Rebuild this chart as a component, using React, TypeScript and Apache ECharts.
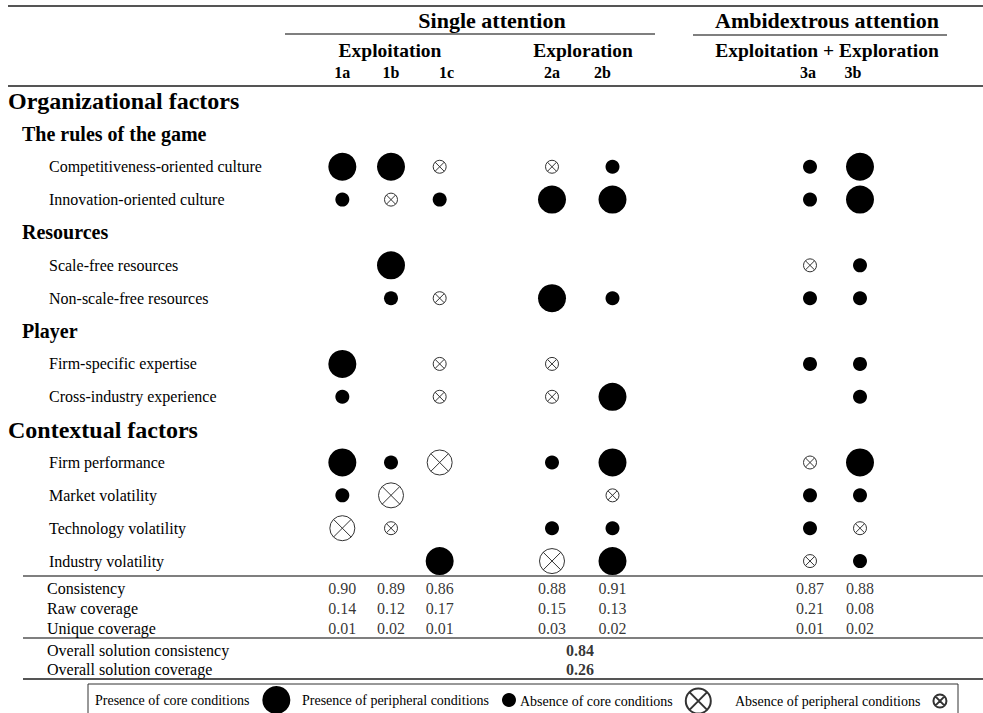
import React, { useEffect, useRef } from 'react';
import * as echarts from 'echarts';

const FONT = '"Liberation Serif", "Times New Roman", Times, serif';

// ---- Data ----
const conditionRows = [
  'Organizational factors',
  'The rules of the game',
  'Competitiveness-oriented culture',
  'Innovation-oriented culture',
  'Resources',
  'Scale-free resources',
  'Non-scale-free resources',
  'Player',
  'Firm-specific expertise',
  'Cross-industry experience',
  'Contextual factors',
  'Firm performance',
  'Market volatility',
  'Technology volatility',
  'Industry volatility',
];
const level1Rows = ['Organizational factors', 'Contextual factors'];
const level2Rows = ['The rules of the game', 'Resources', 'Player'];
const conditions = [
  'Competitiveness-oriented culture',
  'Innovation-oriented culture',
  'Scale-free resources',
  'Non-scale-free resources',
  'Firm-specific expertise',
  'Cross-industry experience',
  'Firm performance',
  'Market volatility',
  'Technology volatility',
  'Industry volatility',
];

const exploitationCols = ['1a', '1b', '1c'];
const explorationCols = ['2a', '2b'];
const ambidextrousCols = ['3a', '3b'];
const allCols = ['1a', '1b', '1c', '2a', '2b', '3a', '3b'];

// CP = presence of core, PP = presence of peripheral, CA = absence of core, PA = absence of peripheral
const config1a = ['CP', 'PP', '', '', 'CP', 'PP', 'CP', 'PP', 'CA', ''];
const config1b = ['CP', 'PA', 'CP', 'PP', '', '', 'PP', 'CA', 'PA', ''];
const config1c = ['PA', 'PP', '', 'PA', 'PA', 'PA', 'CA', '', '', 'CP'];
const config2a = ['PA', 'CP', '', 'CP', 'PA', 'PA', 'PP', '', 'PP', 'CA'];
const config2b = ['PP', 'CP', '', 'PP', '', 'CP', 'CP', 'PA', 'PP', 'CP'];
const config3a = ['PP', 'PP', 'PA', 'PP', 'PP', '', 'PA', 'PP', 'PP', 'PA'];
const config3b = ['CP', 'CP', 'PP', 'PP', 'PP', 'PP', 'CP', 'PP', 'PA', 'PP'];

const statRows = ['Consistency', 'Raw coverage', 'Unique coverage'];
const consistency = [0.9, 0.89, 0.86, 0.88, 0.91, 0.87, 0.88];
const rawCoverage = [0.14, 0.12, 0.17, 0.15, 0.13, 0.21, 0.08];
const uniqueCoverage = [0.01, 0.02, 0.01, 0.03, 0.02, 0.01, 0.02];

const overallRows = ['Overall solution consistency', 'Overall solution coverage'];
const overallValues = [0.84, 0.26];

const legendNames = [
  'Presence of core conditions',
  'Presence of peripheral conditions',
  'Absence of core conditions',
  'Absence of peripheral conditions',
];

// ---- Layout / style ----
const configs: Record<string, string[]> = {
  '1a': config1a, '1b': config1b, '1c': config1c,
  '2a': config2a, '2b': config2b, '3a': config3a, '3b': config3b,
};
const statArrays = [consistency, rawCoverage, uniqueCoverage];

const CROSS =
  'path://M0,-10A10,10,0,1,1,0,10A10,10,0,1,1,0,-10ZM-7.07,-7.07L7.07,7.07M7.07,-7.07L-7.07,7.07';

const symbolTypes = [
  { code: 'CP', name: legendNames[0], symbol: 'circle', size: 28, style: { color: '#000', opacity: 1 } },
  { code: 'PP', name: legendNames[1], symbol: 'circle', size: 14, style: { color: '#000', opacity: 1 } },
  { code: 'CA', name: legendNames[2], symbol: CROSS, size: 25, style: { color: '#fff', borderColor: '#333', borderWidth: 1, opacity: 1 } },
  { code: 'PA', name: legendNames[3], symbol: CROSS, size: 13, style: { color: '#fff', borderColor: '#333', borderWidth: 1, opacity: 1 } },
];

const groups = [
  { cols: exploitationCols, left: 318, width: 146 },
  { cols: explorationCols, left: 521.75, width: 121 },
  { cols: ambidextrousCols, left: 785, width: 100 },
];

// small horizontal nudges of the column header labels (px, + = right)
const headerNudge: Record<string, number> = { '1a': 0, '1b': 0, '1c': 7, '2a': 0, '2b': -10, '3a': -2, '3b': -7 };

const COND_TOP = 84.6;
const COND_H = 492.9;
const STAT_TOP = 578;
const STAT_H = 60;
const OV_TOP = 641;
const OV_H = 38;

function buildOption() {
  const grid: any[] = [];
  const xAxis: any[] = [];
  const yAxis: any[] = [];
  const series: any[] = [];

  const hidden = { axisLine: { show: false }, axisTick: { show: false }, splitLine: { show: false } };

  const headerRich: Record<string, any> = {};
  allCols.forEach((c) => {
    const n = headerNudge[c];
    headerRich['c' + c] = {
      fontSize: 16, fontWeight: 'bold', color: '#000', fontFamily: FONT,
      padding: [0, n < 0 ? -2 * n : 0, 0, n > 0 ? 2 * n : 0],
    };
  });

  // condition grids 0..2
  groups.forEach((g, gi) => {
    grid.push({ left: g.left, width: g.width, top: COND_TOP, height: COND_H, outerBoundsMode: 'none' });
    xAxis.push({
      type: 'category', gridIndex: gi, data: g.cols, position: 'top', ...hidden,
      axisLabel: {
        show: true, interval: 0, margin: 12.6, verticalAlign: 'middle', fontSize: 16, fontWeight: 'bold', color: '#000', fontFamily: FONT,
        formatter: (v: string) => `{c${v}|${v}}`,
        rich: headerRich,
      },
    });
    yAxis.push({
      type: 'category', gridIndex: gi, data: conditionRows, inverse: true, ...hidden,
      axisLabel: gi === 0
        ? {
            show: true, interval: 0, align: 'left', margin: g.left - 8, color: '#000', fontFamily: FONT,
            formatter: (v: string) =>
              level1Rows.includes(v) ? `{h1|${v}}` : level2Rows.includes(v) ? `{h2|${v}}` : `{it|${v}}`,
            rich: {
              h1: { fontSize: 24, fontWeight: 'bold', color: '#000', fontFamily: FONT },
              h2: { fontSize: 20, fontWeight: 'bold', color: '#000', fontFamily: FONT, padding: [0, 0, 0, 14] },
              it: { fontSize: 16, color: '#000', fontFamily: FONT, padding: [0, 0, 0, 41] },
            },
          }
        : { show: false },
    });
    symbolTypes.forEach((t) => {
      const data: any[] = [];
      g.cols.forEach((col) => {
        configs[col].forEach((code, ri) => {
          if (code === t.code) data.push([col, conditions[ri]]);
        });
      });
      series.push({
        type: 'scatter', name: t.name, xAxisIndex: gi, yAxisIndex: gi,
        symbol: t.symbol, symbolSize: t.size, itemStyle: t.style, data, silent: true,
      });
    });
  });

  // stats grids 3..5
  groups.forEach((g, gi) => {
    const idx = 3 + gi;
    grid.push({ left: g.left, width: g.width, top: STAT_TOP, height: STAT_H, outerBoundsMode: 'none' });
    xAxis.push({ type: 'category', gridIndex: idx, data: g.cols, show: false });
    yAxis.push({
      type: 'category', gridIndex: idx, data: statRows, inverse: true, ...hidden,
      axisLabel: gi === 0
        ? { show: true, interval: 0, align: 'left', margin: g.left - 47, fontSize: 16, color: '#000', fontFamily: FONT }
        : { show: false },
    });
    const data: any[] = [];
    g.cols.forEach((col) => {
      const ci = allCols.indexOf(col);
      statRows.forEach((row, ri) => data.push([col, row, statArrays[ri][ci]]));
    });
    series.push({
      type: 'scatter', xAxisIndex: idx, yAxisIndex: idx, symbolSize: 1, silent: true,
      itemStyle: { color: 'rgba(0,0,0,0)' },
      label: {
        show: true, position: 'inside', fontSize: 16, color: '#000', fontFamily: FONT,
        formatter: (p: any) => Number(p.value[2]).toFixed(2),
      },
      data,
    });
  });

  // overall grid 6
  grid.push({ left: 560, width: 40, top: OV_TOP, height: OV_H, outerBoundsMode: 'none' });
  xAxis.push({ type: 'category', gridIndex: 6, data: ['overall'], show: false });
  yAxis.push({
    type: 'category', gridIndex: 6, data: overallRows, inverse: true, ...hidden,
    axisLabel: { show: true, interval: 0, align: 'left', margin: 560 - 47, fontSize: 16, color: '#000', fontFamily: FONT },
  });
  series.push({
    type: 'scatter', xAxisIndex: 6, yAxisIndex: 6, symbolSize: 1, silent: true,
    itemStyle: { color: 'rgba(0,0,0,0)' },
    label: {
      show: true, position: 'inside', fontSize: 16, fontWeight: 'bold', color: '#000', fontFamily: FONT,
      formatter: (p: any) => Number(p.value[2]).toFixed(2),
    },
    data: overallRows.map((r, i) => ['overall', r, overallValues[i]]),
  });

  const legendPos = [
    { left: 95, w: 28, h: 28 },
    { left: 302, w: 14, h: 14 },
    { left: 520, w: 25, h: 25 },
    { left: 735, w: 13, h: 13 },
  ];
  const legend = legendNames.map((n, i) => ({
    data: [n], left: legendPos[i].left, top: 700 - legendPos[i].h / 2, align: 'right',
    itemWidth: legendPos[i].w, itemHeight: legendPos[i].h, selectedMode: false, padding: 0,
    textStyle: { fontSize: 14, color: '#000', fontFamily: FONT, padding: [0, 8, 0, 0] },
  }));

  const txt = (text: string, x: number, y: number, size: number) => ({
    type: 'text', x, y, silent: true,
    style: {
      text, fontSize: size, fontWeight: 'bold', fontFamily: FONT, fill: '#000',
      align: 'center', verticalAlign: 'middle', textAlign: 'center', textVerticalAlign: 'middle',
    },
  });
  const ln = (x1: number, y1: number, x2: number, y2: number, w = 1.5) => ({
    type: 'line', silent: true, shape: { x1, y1, x2, y2 }, style: { stroke: '#555', lineWidth: w },
  });

  const graphic = [
    ln(8, 6, 983, 6, 2),
    ln(285, 34, 655, 34),
    ln(693, 35, 947, 35),
    ln(8, 86, 983, 86, 2),
    ln(23, 576, 983, 576),
    ln(23, 638, 983, 638),
    ln(23, 679, 983, 679, 2),
    txt('Single attention', 492, 20, 22),
    txt('Ambidextrous attention', 827, 20, 22),
    txt('Exploitation', 390, 50, 19.5),
    txt('Exploration', 583, 50, 19.5),
    txt('Exploitation + Exploration', 827, 50, 19.5),
    {
      type: 'rect', silent: true, z: -1,
      shape: { x: 88, y: 684, width: 870, height: 40 },
      style: { fill: 'none', stroke: '#333', lineWidth: 1 },
    },
  ];

  return {
    animation: false,
    backgroundColor: '#fff',
    textStyle: { fontFamily: FONT },
    grid, xAxis, yAxis, series, legend, graphic,
  };
}

export default function App() {
  const ref = useRef<HTMLDivElement>(null);
  useEffect(() => {
    document.body.style.margin = '0';
    if (!ref.current) return;
    const chart = echarts.init(ref.current, undefined, { renderer: 'svg' });
    chart.setOption(buildOption() as any);
    return () => chart.dispose();
  }, []);
  return <div ref={ref} style={{ width: 983, height: 713 }} />;
}
